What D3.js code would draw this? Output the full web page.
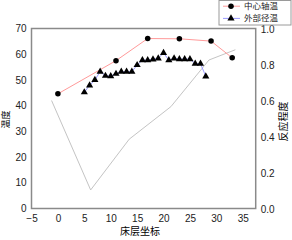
<!DOCTYPE html>
<html><head><meta charset="utf-8">
<script src="https://cdn.jsdelivr.net/npm/d3@7"></script>
<style>body{margin:0;background:#fff}svg{display:block}</style>
</head><body><svg id="c" width="292" height="240"></svg>
<script>
const xTicks = [-5,0,5,10,15,20,25,30,35];
const yLeftTicks = [0,10,20,30,40,50,60,70];
const yRightTicks = [0.0,0.2,0.4,0.6,0.8,1.0];
const centerX = [0,11,17,23,29,33];
const centerY = [44.6,57.5,66.1,66.0,65.1,58.6];
const outerX = [5,6,7,8,9,10,11,12,13,14,15,16,17,18,19,20,21,22,23,24,25,26,27,28];
const outerY = [45.2,47.9,50.0,53.2,51.6,51.5,52.4,53.2,53.2,53.2,55.8,57.7,57.7,58.0,58.4,60.5,57.7,58.4,58.1,58.1,58.1,56.3,56.3,51.4];
const reactX = [-1.2,6.2,13.5,21.4,28.6,33.6];
const reactY = [0.60,0.103,0.385,0.566,0.825,0.882];
const seriesNames = ["中心轴温","外部径温"];

const svg = d3.select("#c");
const L=31.5, R=255.7, T=28.5, B=208.5;
const x = d3.scaleLinear().domain([-5,37.45]).range([L,R]);
const y = d3.scaleLinear().domain([0,70]).range([B,T]);
const y2 = d3.scaleLinear().domain([0,1]).range([B,T]);
const tickFont = "'Liberation Sans', Arial, sans-serif";
const cjk = "'Noto Sans CJK SC', sans-serif";

// plot frame
svg.append("rect").attr("x",L).attr("y",T).attr("width",R-L).attr("height",B-T)
  .attr("fill","none").attr("stroke","#8a8a8a").attr("stroke-width",1.5);

// axes (labels only)
const ax = svg.append("g").attr("transform",`translate(0,${B})`)
  .call(d3.axisBottom(x).tickValues(xTicks).tickSize(0).tickPadding(6).tickFormat(d3.format("d")));
const ay = svg.append("g").attr("transform",`translate(${L},0)`)
  .call(d3.axisLeft(y).tickValues(yLeftTicks).tickSize(0).tickPadding(5));
const ay2 = svg.append("g").attr("transform",`translate(${R},0)`)
  .call(d3.axisRight(y2).tickValues(yRightTicks).tickSize(0).tickPadding(5).tickFormat(d3.format(".1f")));
[ax,ay,ay2].forEach(g=>{
  g.select(".domain").remove();
  g.selectAll("text").attr("font-family",tickFont).attr("font-size",10).attr("fill","#222");
});
ay2.selectAll("text").attr("dy","0.42em");

// reaction degree line (right axis)
svg.append("path").datum(reactX.map((v,i)=>[v,reactY[i]]))
  .attr("fill","none").attr("stroke","#c4c4c4").attr("stroke-width",1)
  .attr("d",d3.line().x(d=>x(d[0])).y(d=>y2(d[1])));

// center temp
svg.append("path").datum(centerX.map((v,i)=>[v,centerY[i]]))
  .attr("fill","none").attr("stroke","#ff9a9a").attr("stroke-width",1)
  .attr("d",d3.line().x(d=>x(d[0])).y(d=>y(d[1])));
// outer temp
svg.append("path").datum(outerX.map((v,i)=>[v,outerY[i]]))
  .attr("fill","none").attr("stroke","#9a9aff").attr("stroke-width",1)
  .attr("d",d3.line().x(d=>x(d[0])).y(d=>y(d[1])));

const circ = d3.symbol().type(d3.symbolCircle).size(24);
const tri = d3.symbol().type(d3.symbolTriangle).size(22);
svg.append("g").selectAll("path").data(centerX.map((v,i)=>[v,centerY[i]])).join("path")
  .attr("d",circ).attr("transform",d=>`translate(${x(d[0])},${y(d[1])})`).attr("fill","#000");
svg.append("g").selectAll("path").data(outerX.map((v,i)=>[v,outerY[i]])).join("path")
  .attr("d",tri).attr("transform",d=>`translate(${x(d[0])},${y(d[1])})`).attr("fill","#000");

// axis titles
svg.append("text").attr("transform","translate(9,119.5) rotate(-90)").attr("text-anchor","middle")
  .attr("font-family",cjk).attr("font-size",9).text("温度");
svg.append("text").attr("transform","translate(287,121.5) rotate(-90)").attr("text-anchor","middle")
  .attr("font-family",cjk).attr("font-size",10).text("反应程度");
svg.append("text").attr("x",140).attr("y",235).attr("text-anchor","middle")
  .attr("font-family",cjk).attr("font-size",10).text("床层坐标");

// legend
const lg = svg.append("g");
lg.append("rect").attr("x",219).attr("y",0.5).attr("width",72).attr("height",24.5)
  .attr("fill","#fff").attr("stroke","#9a9a9a").attr("stroke-width",1);
const rows = [{c:"#ff9a9a",s:circ,yy:6.2},{c:"#9a9aff",s:tri,yy:18.4}];
rows.forEach((r,i)=>{
  lg.append("line").attr("x1",223).attr("x2",240).attr("y1",r.yy).attr("y2",r.yy).attr("stroke",r.c);
  lg.append("path").attr("d",r.s).attr("transform",`translate(231,${r.yy})`).attr("fill","#000");
  lg.append("text").attr("x",244).attr("y",r.yy+3).attr("font-family",cjk).attr("font-size",8.5)
    .attr("fill","#222").text(seriesNames[i]);
});
</script></body></html>
